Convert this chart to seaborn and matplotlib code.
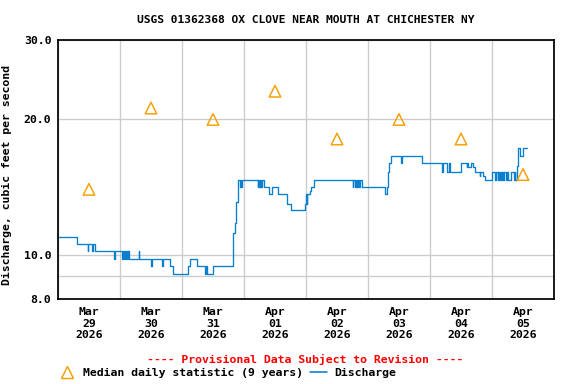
import matplotlib
matplotlib.use("Agg")
import matplotlib.pyplot as plt
import matplotlib.dates as mdates
from matplotlib.lines import Line2D
from matplotlib.ticker import FixedLocator, NullFormatter
import seaborn as sns
import pandas as pd

title = "USGS 01362368 OX CLOVE NEAR MOUTH AT CHICHESTER NY"
start = pd.Timestamp("2026-03-29 00:00")

# discharge, read off the hydrograph as change points
# (hours since Mar 29 00:00, cubic feet per second)
q_hours = [0, 7.5, 11.5, 11.75, 13.25, 13.5, 14.5, 21.75, 22.0, 24.75, 25.0,
           25.5, 25.75, 26.25, 26.75, 27.0, 27.25, 27.5, 31.25, 31.5, 36.0,
           36.5, 40.25, 40.5, 43.5, 44.5, 50.25, 51.0, 53.75, 57.0, 57.25,
           57.75, 60.0, 67.75, 68.5, 69.0, 69.5, 69.75, 70.5, 70.75, 71.0,
           71.25, 77.25, 77.5, 77.75, 78.0, 78.25, 78.5, 78.75, 79.0, 79.75,
           81.75, 82.75, 85.25, 88.75, 90.25, 95.5, 96.0, 96.25, 96.5, 97.5,
           98.0, 99.0, 114.0, 114.25, 115.0, 115.25, 115.5, 115.75, 116.0,
           116.25, 116.5, 116.75, 117.5, 126.75, 127.25, 127.75, 128.25,
           128.75, 132.75, 133.0, 141.0, 148.75, 149.0, 150.75, 151.25,
           151.75, 156.0, 158.25, 158.5, 158.75, 159.75, 160.5, 161.5,
           163.25, 163.5, 164.5, 165.25, 168.0, 169.0, 169.5, 170.25, 170.5,
           170.75, 171.0, 171.25, 171.5, 171.75, 172.0, 172.25, 172.5, 173.5,
           173.75, 174.25, 175.5, 176.5, 176.75, 177.0, 177.5, 178.0, 178.25,
           178.75, 180.0, 181.5]
q_values = [11.0, 10.6, 10.2, 10.6, 10.2, 10.6, 10.2, 9.8, 10.2, 9.8, 10.2,
            9.8, 10.2, 9.8, 10.2, 9.8, 10.2, 9.8, 10.2, 9.8, 9.45,
            9.8, 9.45, 9.8, 9.45, 9.1, 9.45, 9.8, 9.45, 9.1, 9.45,
            9.1, 9.45, 11.2, 11.8, 13.1, 13.9, 14.7, 14.2, 14.7, 14.2,
            14.7, 14.2, 14.7, 14.2, 14.7, 14.2, 14.7, 14.2, 14.7, 14.2,
            13.65, 14.2, 13.65, 13.0, 12.6, 13.0, 13.65, 13.0, 13.65, 13.9,
            14.2, 14.7, 14.2, 14.7, 14.2, 14.7, 14.2, 14.7, 14.2,
            14.7, 14.2, 14.7, 14.2, 13.65, 14.2, 15.3, 16.0,
            16.6, 16.0, 16.6, 16.0, 15.3, 16.0, 15.3, 16.0,
            15.3, 16.0, 15.7, 16.0, 15.7, 16.0, 15.7, 15.3,
            15.0, 15.3, 15.0, 14.7, 15.3, 14.7, 15.3, 14.7, 15.3,
            14.7, 15.3, 14.7, 15.3, 14.7, 15.3, 14.7, 15.3, 14.7,
            15.3, 14.7, 15.3, 14.7, 15.3, 14.7, 15.8, 16.5, 17.3,
            16.6, 17.3, 17.3]

# median daily statistic (9 years), plotted at noon
median_days = pd.date_range("2026-03-29 12:00", periods=8, freq="D")
median_values = [14.0, 21.2, 20.0, 23.1, 18.1, 20.0, 18.1, 15.1]

y_ticks = [8, 10, 20, 30]
y_labels = ["8.0", "10.0", "20.0", "30.0"]

flow = pd.DataFrame({"time": start + pd.to_timedelta(q_hours, unit="h"),
                     "cfs": q_values})
medians = pd.DataFrame({"time": median_days, "cfs": median_values})

sns.set_style("white")
plt.rcParams["font.family"] = ["DejaVu Sans Mono"]
plt.rcParams["font.weight"] = "bold"
for k in ["text.color", "axes.labelcolor", "xtick.color", "ytick.color"]:
    plt.rcParams[k] = "black"
fs = 8.6
line_color = "#0a7fd0"
tri_color = "#f5a000"

fig = plt.figure(figsize=(6, 4), dpi=96)
ax = fig.add_axes([58 / 576, 1 - 299 / 384, 496 / 576, 259 / 384])

sns.lineplot(data=flow, x="time", y="cfs", ax=ax, color=line_color,
             lw=1.0, drawstyle="steps-post", sort=False)
sns.scatterplot(data=medians, x="time", y="cfs", ax=ax, marker="^", s=75,
                facecolors="none", edgecolor=tri_color, linewidth=1.1,
                zorder=3)

ax.set_yscale("log")
ax.set_ylim(8, 30)
ax.set_xlim(start, start + pd.Timedelta(days=8))
ax.yaxis.set_major_locator(FixedLocator(y_ticks))
ax.set_yticklabels(y_labels)
ax.yaxis.set_minor_locator(FixedLocator([9]))
ax.yaxis.set_minor_formatter(NullFormatter())

# gridlines at midnight, date labels at noon
ax.xaxis.set_major_locator(mdates.DayLocator())
ax.xaxis.set_major_formatter(plt.NullFormatter())
ax.xaxis.set_minor_locator(mdates.HourLocator(byhour=[12]))
ax.xaxis.set_minor_formatter(mdates.DateFormatter("%b\n%d\n%Y"))

ax.grid(False)
ax.xaxis.grid(True, which="major", color="#cccccc", lw=1.0)
ax.yaxis.grid(True, which="both", color="#cccccc", lw=1.0)
ax.set_axisbelow(True)
ax.tick_params(axis="both", which="both", length=0, labelsize=fs,
               labelcolor="black")
ax.tick_params(axis="x", which="minor", pad=6)
ax.tick_params(axis="y", pad=5)
for lab in ax.get_xticklabels(minor=True) + ax.get_yticklabels():
    lab.set_fontweight("bold")
for s in ax.spines.values():
    s.set_color("black")
    s.set_linewidth(1.3)

ax.set_xlabel("")
ax.set_ylabel("Discharge, cubic feet per second", fontsize=fs,
              fontweight="bold", color="black")
ax.yaxis.set_label_coords(-0.093, 0.48)

fig.text(305.5 / 576, 1 - 20 / 384, title, ha="center", va="center",
         fontsize=fs - 0.2, fontweight="bold", color="black")
fig.text(305.5 / 576, 1 - 359 / 384,
         "---- Provisional Data Subject to Revision ----",
         ha="center", va="center", fontsize=fs, fontweight="bold",
         color="red")

handles = [Line2D([], [], ls="none", marker="^", ms=9, mfc="none",
                  mec=tri_color, mew=1.1),
           Line2D([], [], color=line_color, lw=1.2)]
fig.legend(handles, ["Median daily statistic (9 years)", "Discharge"],
           loc="center left", bbox_to_anchor=(58 / 576, 1 - 373 / 384),
           ncol=2, frameon=False, borderpad=0, borderaxespad=0,
           handlelength=1.5, handletextpad=0.65, columnspacing=0.6,
           prop={"size": fs, "weight": "bold"}, labelcolor="black")

fig.savefig("out.png", dpi=96)
